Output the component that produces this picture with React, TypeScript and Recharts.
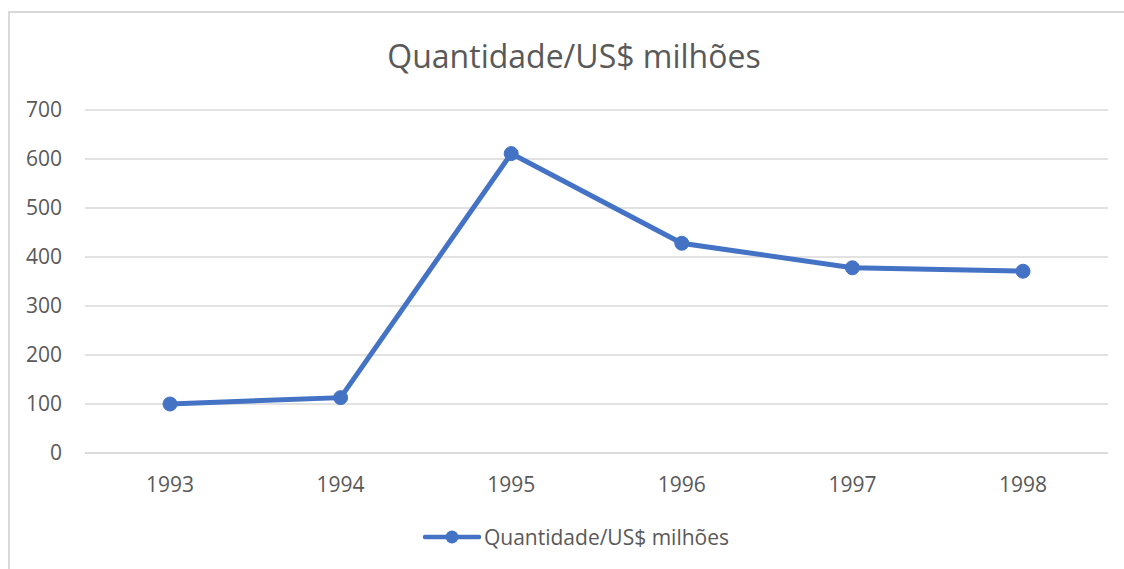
import React from "react";
import {
  LineChart,
  Line,
  XAxis,
  YAxis,
  CartesianGrid,
  Legend,
} from "recharts";

const years = ["1993", "1994", "1995", "1996", "1997", "1998"];
const quantidade = [100, 113, 611, 428, 378, 371];
const yTicks = [0, 100, 200, 300, 400, 500, 600, 700];

const SERIES_NAME = "Quantidade/US$ milhões";

const data = years.map((year, i) => ({ year, value: quantidade[i] }));

const COLORS = {
  line: "#4472C4",
  grid: "#D9D9D9",
  text: "#595959",
  border: "#D9D9D9",
};

const FONT = "'Open Sans', 'Noto Sans', sans-serif";

function LegendContent() {
  return (
    <div
      style={{
        display: "flex",
        justifyContent: "center",
        alignItems: "center",
        fontFamily: FONT,
        fontSize: 21,
        lineHeight: "28px",
        color: COLORS.text,
        paddingTop: 30,
        paddingLeft: 34,
      }}
    >
      <svg width={58} height={16} style={{ marginRight: 3 }}>
        <line x1={2} y1={8} x2={56} y2={8} stroke={COLORS.line} strokeWidth={4.5} strokeLinecap="round" />
        <circle cx={29} cy={8} r={6.5} fill={COLORS.line} />
      </svg>
      <span>{SERIES_NAME}</span>
    </div>
  );
}

export default function App() {
  return (
    <div
      style={{
        position: "absolute",
        left: 0,
        top: 0,
        width: 1124,
        height: 569,
        overflow: "hidden",
        background: "#fff",
      }}
    >
      <div
        style={{
          position: "absolute",
          left: 8,
          top: 11,
          width: 1200,
          height: 700,
          border: `2px solid ${COLORS.border}`,
          boxSizing: "border-box",
        }}
      />
      <div
        style={{
          position: "absolute",
          left: 0,
          top: 34,
          width: 1148,
          textAlign: "center",
          fontFamily: FONT,
          fontSize: 32,
          lineHeight: "44px",
          color: COLORS.text,
        }}
      >
        {SERIES_NAME}
      </div>
      <div style={{ position: "absolute", left: 0, top: 0 }}>
        <LineChart
          width={1124}
          height={569}
          data={data}
          margin={{ top: 110, right: 16, left: 10, bottom: 26 }}
        >
          <CartesianGrid stroke={COLORS.grid} strokeWidth={1.5} vertical={false} />
          <XAxis
            dataKey="year"
            padding={{ left: 85, right: 85 }}
            axisLine={{ stroke: COLORS.grid, strokeWidth: 1.5 }}
            tickLine={false}
            tickSize={0}
            tickMargin={24}
            height={40}
            tick={{ fill: COLORS.text, fontSize: 21, fontFamily: FONT }}
          />
          <YAxis
            domain={[0, 700]}
            ticks={yTicks}
            axisLine={false}
            tickLine={false}
            tickSize={0}
            tickMargin={23}
            width={75}
            tick={{ fill: COLORS.text, fontSize: 21, fontFamily: FONT }}
          />
          <Legend verticalAlign="bottom" height={50} content={<LegendContent />} />
          <Line
            type="linear"
            dataKey="value"
            name={SERIES_NAME}
            stroke={COLORS.line}
            strokeWidth={5}
            dot={{ r: 7, fill: COLORS.line, stroke: COLORS.line, strokeWidth: 1 }}
            isAnimationActive={false}
          />
        </LineChart>
      </div>
    </div>
  );
}
